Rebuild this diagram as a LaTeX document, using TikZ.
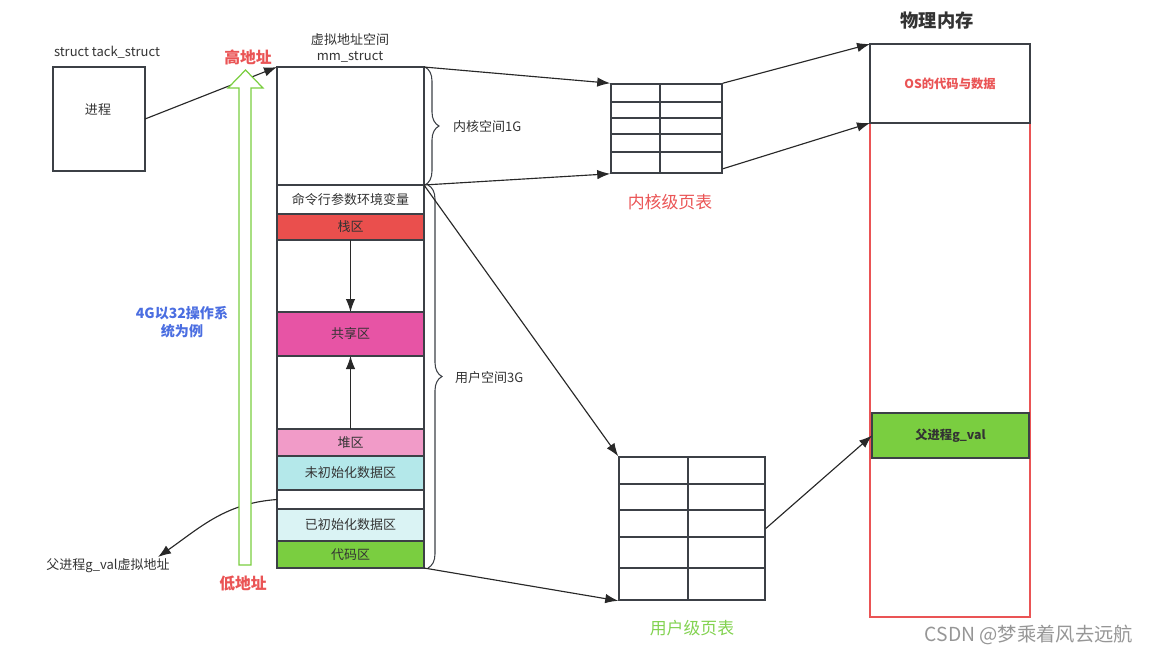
\documentclass[tikz,border=0pt]{standalone}
\usepackage{fontspec}
\setmainfont{Noto Sans CJK SC}
\usetikzlibrary{arrows.meta,decorations.pathreplacing,calc}
\definecolor{txtgray}{RGB}{51,51,51}
\definecolor{edgegray}{RGB}{60,64,70}
\definecolor{linkgray}{RGB}{40,40,40}
\definecolor{addrred}{RGB}{234,84,85}
\definecolor{stackred}{RGB}{234,79,77}
\definecolor{sharedpink}{RGB}{231,84,165}
\definecolor{heappink}{RGB}{241,155,200}
\definecolor{bsscyan}{RGB}{180,232,234}
\definecolor{datacyan}{RGB}{218,243,244}
\definecolor{codegreen}{RGB}{122,206,64}
\definecolor{notegreen}{RGB}{130,210,80}
\definecolor{noteblue}{RGB}{75,110,225}
\definecolor{markgray}{RGB}{150,150,150}

\begin{document}
\begin{tikzpicture}[x=0.02cm,y=-0.02cm,
    font=\fontsize{7.4}{9}\selectfont,text=txtgray,
    box/.style={draw=edgegray,line width=0.7pt,inner sep=0pt,outer sep=0pt},
    seg/.style={box,minimum width=2.94cm},
    tab/.style={draw=edgegray,line width=0.9pt},
    link/.style={draw=linkgray,line width=0.65pt,-{Latex[length=2.6mm,width=1.9mm]}},
    brc/.style={draw=edgegray,line width=0.6pt,decorate,decoration={brace,amplitude=0.28cm}},
    addr/.style={font=\fontsize{9}{10}\selectfont\bfseries,text=addrred}]
  \useasboundingbox (0,0) rectangle (1150,654);

  \node[box,minimum width=1.84cm,minimum height=2.08cm] (proc) at (99,119) {};
  \node (proctxt) at (98,110) {进程};
  \node (procname) at (107,52) {struct tack\_struct};

  \node[align=center] (vmname) at (350,48) {虚拟地址空间\\mm\_struct};
  \node[seg,minimum height=2.36cm] (kern) at (350.5,126) {};
  \node[seg,minimum height=0.58cm] (args) at (350.5,199.5) {命令行参数环境变量};
  \node[seg,minimum height=0.52cm,fill=stackred] (stack) at (350.5,227) {栈区};
  \node[seg,minimum height=1.44cm] (gapa) at (350.5,276) {};
  \node[seg,minimum height=0.88cm,fill=sharedpink] (shared) at (350.5,334) {共享区};
  \node[seg,minimum height=1.46cm] (gapb) at (350.5,392.5) {};
  \node[seg,minimum height=0.54cm,fill=heappink] (heap) at (350.5,442.5) {堆区};
  \node[seg,minimum height=0.68cm,fill=bsscyan] (bss) at (350.5,473) {未初始化数据区};
  \node[seg,minimum height=0.38cm] (gapc) at (350.5,499.5) {};
  \node[seg,minimum height=0.64cm,fill=datacyan] (data) at (350.5,525) {已初始化数据区};
  \node[seg,minimum height=0.54cm,fill=codegreen] (code) at (350.5,554.5) {代码区};
  \draw[edgegray,line width=1.3pt] (kern.north west) -- (kern.north east);

  \draw[link] (stack.south) -- (shared.north);
  \draw[link] (heap.north) -- (shared.south);

  \draw[brc] (425,67) -- (425,185);
  \draw[brc] (428,185) -- (428,568);
  \node[anchor=west] (kernsp) at (447,127) {内核空间1G};
  \node[anchor=west] (usersp) at (449,378) {用户空间3G};

  \node[tab,minimum width=2.22cm,minimum height=1.78cm,inner sep=0pt] (ktab) at (666.5,128.5) {};
  \foreach \y in {102,118,134,152}
    \draw[tab] (ktab.west |- 0,\y) -- (ktab.east |- 0,\y);
  \draw[tab] (660,84) -- (660,173);
  \node[font=\fontsize{9.6}{11}\selectfont,text=addrred] (ktabname) at (670,202) {内核级页表};

  \node[tab,minimum width=2.92cm,minimum height=2.86cm,inner sep=0pt] (utab) at (692,528.5) {};
  \foreach \y in {484,510,537,568}
    \draw[tab] (utab.west |- 0,\y) -- (utab.east |- 0,\y);
  \draw[tab] (688,457) -- (688,600);
  \node[font=\fontsize{9.6}{11}\selectfont,text=notegreen] (utabname) at (692,628) {用户级页表};

  \node[font=\fontsize{10.4}{12}\selectfont\bfseries] (physname) at (937,21) {物理内存};
  \node[draw=addrred,line width=0.9pt,minimum width=3.2cm,minimum height=11.46cm,inner sep=0pt] (phys) at (950,330.5) {};
  \node[box,minimum width=3.2cm,minimum height=1.58cm,fill=white,font=\fontsize{7}{9}\selectfont\bfseries,text=addrred] (os) at (950,83.5) {OS的代码与数据};
  \node[box,minimum width=3.14cm,minimum height=0.9cm,fill=codegreen,font=\fontsize{7}{9}\selectfont\bfseries] (gval) at (950.5,435.5) {父进程g\_val};

  \node (gvaddr) at (108,566) {父进程g\_val虚拟地址};
  \coordinate (gvtip) at (158,557);
  \draw[link] (gapc.west) to[out=184,in=35] (gvtip);

  \draw[link] (proc.east) -- (kern.north west);
  \draw[fill=white,draw=codegreen,line width=0.7pt] (239,565) -- (239,88) -- (228,88) -- (245.5,70) -- (263,88) -- (251,88) -- (251,565) -- cycle;
  \node[addr] (hiaddr) at (248,57) {高地址};
  \node[addr] (loaddr) at (243,583) {低地址};
  \node[align=center,font=\fontsize{8}{10.2}\selectfont\bfseries,text=noteblue] (note) at (182,322) {4G以32操作系\\统为例};

  \draw[link] (kern.north east) -- (ktab.north west);
  \draw[link] (kern.south east) -- (ktab.south west);
  \draw[link] (ktab.north east) -- (os.north west);
  \draw[link] ($(ktab.south east)+(0,-5)$) -- (os.south west);
  \draw[link] (args.north east) -- (utab.north west);
  \draw[link] (code.south east) -- (utab.south west);
  \draw[link] (utab.east) -- (gval.west);

  \node[font=\fontsize{11}{13}\selectfont,text=markgray] (mark) at (1029,635) {CSDN @梦乘着风去远航};
\end{tikzpicture}
\end{document}
